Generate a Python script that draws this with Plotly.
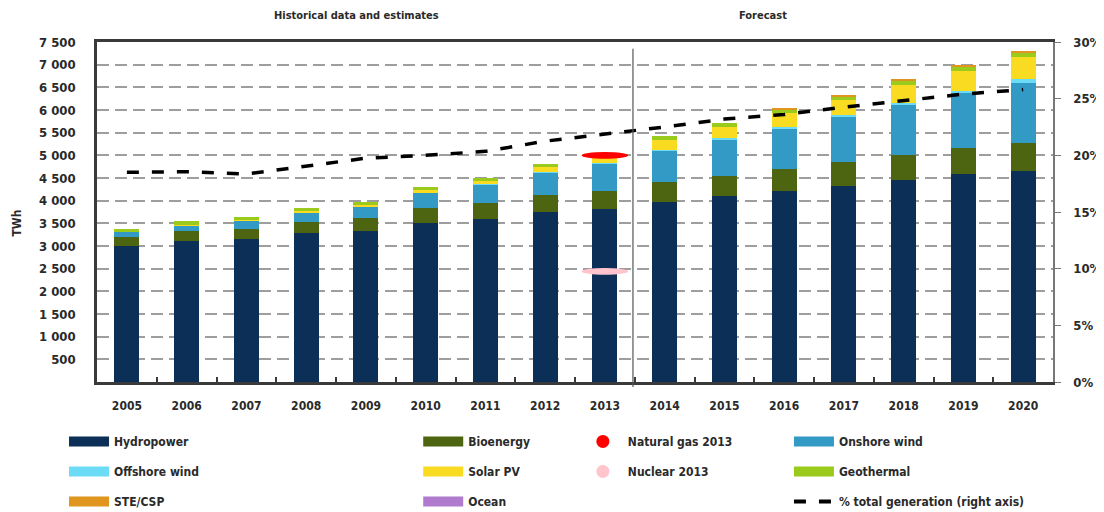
import plotly.graph_objects as go

years = ['2005', '2006', '2007', '2008', '2009', '2010', '2011', '2012',
         '2013', '2014', '2015', '2016', '2017', '2018', '2019', '2020']

hydropower = [3000, 3115, 3155, 3280, 3335, 3515, 3590, 3745,
              3815, 3980, 4100, 4220, 4330, 4455, 4580, 4660]
bioenergy = [205, 220, 230, 250, 275, 330, 350, 380,
             405, 424, 445, 470, 515, 550, 575, 620]
onshore_wind = [105, 125, 175, 210, 260, 330, 410, 500,
                595, 700, 815, 905, 995, 1105, 1215, 1310]
offshore_wind = [2, 3, 5, 7, 10, 12, 15, 18,
                 23, 20, 25, 30, 45, 55, 60, 100]
solar_pv = [4, 6, 8, 15, 25, 40, 70, 100,
            100, 215, 235, 315, 335, 385, 430, 485]
geothermal = [70, 72, 72, 72, 72, 74, 73, 75,
              78, 82, 87, 72, 80, 90, 95, 95]
ste_csp = [0, 0, 0, 0, 0, 0, 0, 0,
           0, 0, 0, 12, 20, 25, 35, 40]
ocean = [0, 0, 0, 0, 0, 0, 0, 0,
         0, 0, 0, 0, 0, 0, 0, 0]

pct_total = [18.5, 18.55, 18.35, 19.05, 19.75, 20.0, 20.35, 21.25,
             21.85, 22.5, 23.2, 23.6, 24.25, 24.85, 25.4, 25.8]

natural_gas_2013 = 5000
nuclear_2013 = 2440
marker_year = '2013'

y_tick_vals = [500, 1000, 1500, 2000, 2500, 3000, 3500, 4000,
               4500, 5000, 5500, 6000, 6500, 7000, 7500]
y_tick_text = ['500', '1 000', '1 500', '2 000', '2 500', '3 000', '3 500', '4 000',
               '4 500', '5 000', '5 500', '6 000', '6 500', '7 000', '7 500']
y2_tick_vals = [0, 5, 10, 15, 20, 25, 30]
y2_tick_text = ['0%', '5%', '10%', '15%', '20%', '25%', '30%']

section_labels = ['Historical data and estimates', 'Forecast']

FONT = 'DejaVu Sans Condensed, DejaVu Sans, sans-serif'
TXT = '#2a2a2a'

series = [
    ('Hydropower', hydropower, '#0b2f57', 'legend'),
    ('Bioenergy', bioenergy, '#4d6410', 'legend2'),
    ('Onshore wind', onshore_wind, '#3399c5', 'legend4'),
    ('Offshore wind', offshore_wind, '#6cdcf6', 'legend'),
    ('Solar PV', solar_pv, '#f9dc22', 'legend2'),
    ('Geothermal', geothermal, '#9acb1c', 'legend4'),
    ('STE/CSP', ste_csp, '#e0951f', 'legend'),
    ('Ocean', ocean, '#b07bcf', 'legend2'),
]

fig = go.Figure()

for name, vals, color, _lg in series:
    fig.add_trace(go.Bar(
        x=years, y=vals, name=name, marker=dict(color=color, line=dict(width=0)),
        width=0.42, showlegend=False))

fig.add_trace(go.Scatter(
    x=years, y=pct_total, yaxis='y2', mode='lines', showlegend=False,
    line=dict(color='black', width=3.5, dash='12px,13px')))

# legend entries (dummy traces styled like the reference swatches)
legend_rank = {'Hydropower': 1, 'Offshore wind': 2, 'STE/CSP': 3,
               'Bioenergy': 1, 'Solar PV': 2, 'Ocean': 3,
               'Onshore wind': 1, 'Geothermal': 2}
for name, vals, color, lg in series:
    fig.add_trace(go.Scatter(
        x=[None], y=[None], mode='lines', name=name, legend=lg,
        legendgroup=name, legendrank=legend_rank[name],
        line=dict(color=color, width=10)))
fig.add_trace(go.Scatter(
    x=[None], y=[None], mode='markers', name='Natural gas 2013', legend='legend3',
    legendgroup='ng', legendrank=1, marker=dict(color='#ff0000', size=13, symbol='circle')))
fig.add_trace(go.Scatter(
    x=[None], y=[None], mode='markers', name='Nuclear 2013', legend='legend3',
    legendgroup='nu', legendrank=2, marker=dict(color='#ffc4cc', size=13, symbol='circle')))
fig.add_trace(go.Scatter(
    x=[None], y=[None], mode='lines', name='% total generation (right axis)', legend='legend4',
    legendgroup='pct', legendrank=3, line=dict(color='black', width=4, dash='12px,13px')))

# 2013 ellipses for natural gas and nuclear
idx = years.index(marker_year)
for val, col in [(natural_gas_2013, '#ff0000'), (nuclear_2013, '#ffc4cc')]:
    fig.add_shape(type='circle', xref='x', yref='y', x0=idx - 0.39, x1=idx + 0.39,
                  y0=val - 75, y1=val + 75, fillcolor=col, line=dict(width=0), layer='above')

# divider between historical data and forecast
fig.add_shape(type='line', xref='x', yref='paper', x0=idx + 0.47, x1=idx + 0.47,
              y0=-0.015, y1=0.98, line=dict(color='#555555', width=1.2), layer='above')

fig.add_annotation(text=section_labels[0], xref='paper', yref='paper', x=0.271, y=1.079,
                   xanchor='center', yanchor='middle',
                   showarrow=False, font=dict(family=FONT, size=11, color=TXT, weight='bold'))
fig.add_annotation(text=section_labels[1], xref='paper', yref='paper', x=0.697, y=1.079,
                   xanchor='center', yanchor='middle',
                   showarrow=False, font=dict(family=FONT, size=11, color=TXT, weight='bold'))
fig.add_annotation(text='TWh', xref='paper', yref='paper', x=-0.084, y=0.468, textangle=-90,
                   xanchor='center', yanchor='middle',
                   showarrow=False, font=dict(family=FONT, size=12, color=TXT, weight='bold'))

leg_common = dict(orientation='v', yanchor='top', y=-0.132, xanchor='left',
                  bgcolor='rgba(0,0,0,0)', itemwidth=40, traceorder='grouped',
                  tracegroupgap=11, itemclick=False, itemdoubleclick=False,
                  font=dict(family=FONT, size=12, color=TXT, weight='bold'))

# the page body has an 8px default margin, so the figure is sized to fit the window
fig.update_layout(
    width=1096, height=504,
    margin=dict(l=89, r=51, t=34, b=130, autoexpand=False),
    paper_bgcolor='white', plot_bgcolor='white',
    barmode='stack',
    font=dict(family=FONT, size=13, color=TXT),
    xaxis=dict(
        type='category', categoryorder='array', categoryarray=years,
        range=[-0.5, len(years) - 0.5],
        showline=True, linecolor='#3a3a3a', linewidth=2.5, mirror=True,
        ticks='inside', tickson='boundaries', ticklen=5, tickcolor='#3a3a3a', tickwidth=1.5,
        ticklabelstandoff=11,
        tickfont=dict(family=FONT, size=12, color=TXT, weight='bold'),
        showgrid=False),
    yaxis=dict(
        range=[0, 7500], tickvals=y_tick_vals, ticktext=y_tick_text,
        showline=True, linecolor='#3a3a3a', linewidth=2.5,
        ticks='', ticklabelstandoff=16,
        tickfont=dict(family=FONT, size=13, color=TXT, weight='bold'),
        showgrid=True, gridcolor='#9e9e9e', gridwidth=2, griddash='12px,6px',
        zeroline=False),
    yaxis2=dict(
        range=[0, 30], overlaying='y', side='right', tickvals=y2_tick_vals, ticktext=y2_tick_text,
        showline=True, linecolor='#777777', linewidth=1.5,
        ticks='outside', ticklen=6, tickcolor='#777777',
        ticklabelstandoff=10,
        tickfont=dict(family=FONT, size=13, color=TXT, weight='bold'),
        showgrid=False, zeroline=False),
    legend=dict(x=-0.0345, **leg_common),
    legend2=dict(x=0.336, **leg_common),
    legend3=dict(x=0.503, **leg_common),
    legend4=dict(x=0.7238, **leg_common),
)

fig.write_html('out.html')
